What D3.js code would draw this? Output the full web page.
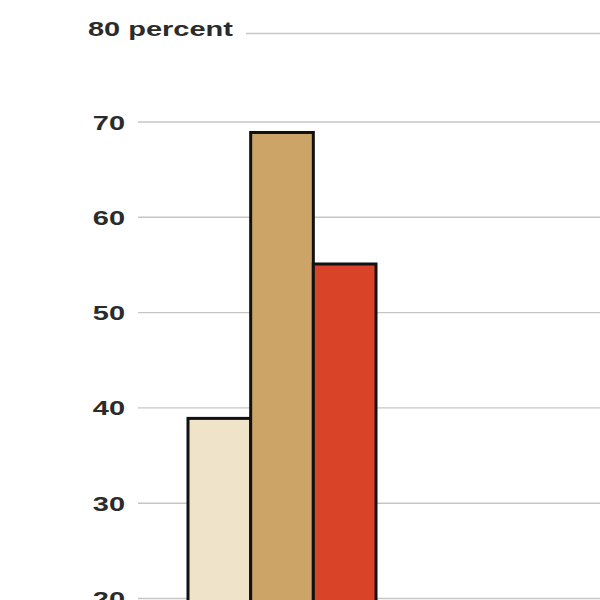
<!DOCTYPE html>
<html>
<head>
<meta charset="utf-8">
<script src="https://cdn.jsdelivr.net/npm/d3@7"></script>
<style>
  html, body { margin: 0; padding: 0; background: #fff; }
  svg { display: block; overflow: hidden; }
</style>
</head>
<body>
<svg id="chart" width="600" height="600"></svg>
<script>
// ---- data ----
const series = ["Series A", "Series B", "Series C"];
const values = [38.9, 68.9, 55.1];
const colors = ["#EFE3C9", "#CCA467", "#D94428"];
const tickValues = [20, 30, 40, 50, 60, 70];
const topTick = 80;
const topTickLabel = "80 percent";

// ---- layout ----
const svg = d3.select("#chart");
const y = d3.scaleLinear().domain([20, 70]).range([598.5, 122]);
const x = d3.scaleBand().domain(series).range([188, 376]).padding(0);
const sx = 1.38; // horizontal stretch of text
const fontSize = 21;
const textColor = "#2b2b2b";
const gridColor = "#c6c6c6";

// gridlines
svg.append("g").selectAll("line")
  .data(tickValues)
  .join("line")
  .attr("x1", 138).attr("x2", 600)
  .attr("y1", d => y(d)).attr("y2", d => y(d))
  .attr("stroke", gridColor).attr("stroke-width", 1.4);

// top gridline (with label)
const topY = y(topTick) + 6.8;
svg.append("line")
  .attr("x1", 246).attr("x2", 600)
  .attr("y1", topY).attr("y2", topY)
  .attr("stroke", gridColor).attr("stroke-width", 1.4);

// tick labels
svg.append("g").selectAll("text")
  .data(tickValues)
  .join("text")
  .attr("transform", d => `translate(125,${y(d)}) scale(${sx},1)`)
  .attr("text-anchor", "end")
  .attr("dy", "0.36em")
  .attr("font-family", "Liberation Sans, Arial, sans-serif")
  .attr("font-weight", "bold")
  .attr("font-size", fontSize)
  .attr("fill", textColor)
  .text(d => d);

svg.append("text")
  .attr("transform", `translate(88,${topY - 5.4}) scale(${sx},1)`)
  .attr("text-anchor", "start")
  .attr("dy", "0.36em")
  .attr("font-family", "Liberation Sans, Arial, sans-serif")
  .attr("font-weight", "bold")
  .attr("font-size", fontSize)
  .attr("fill", textColor)
  .text(topTickLabel);

// bars
svg.append("g").selectAll("rect")
  .data(series.map((s, i) => ({ s, v: values[i], c: colors[i] })))
  .join("rect")
  .attr("x", d => x(d.s))
  .attr("width", x.bandwidth())
  .attr("y", d => y(d.v))
  .attr("height", d => y(0) - y(d.v))
  .attr("fill", d => d.c)
  .attr("stroke", "#111")
  .attr("stroke-width", 3);
</script>
</body>
</html>
